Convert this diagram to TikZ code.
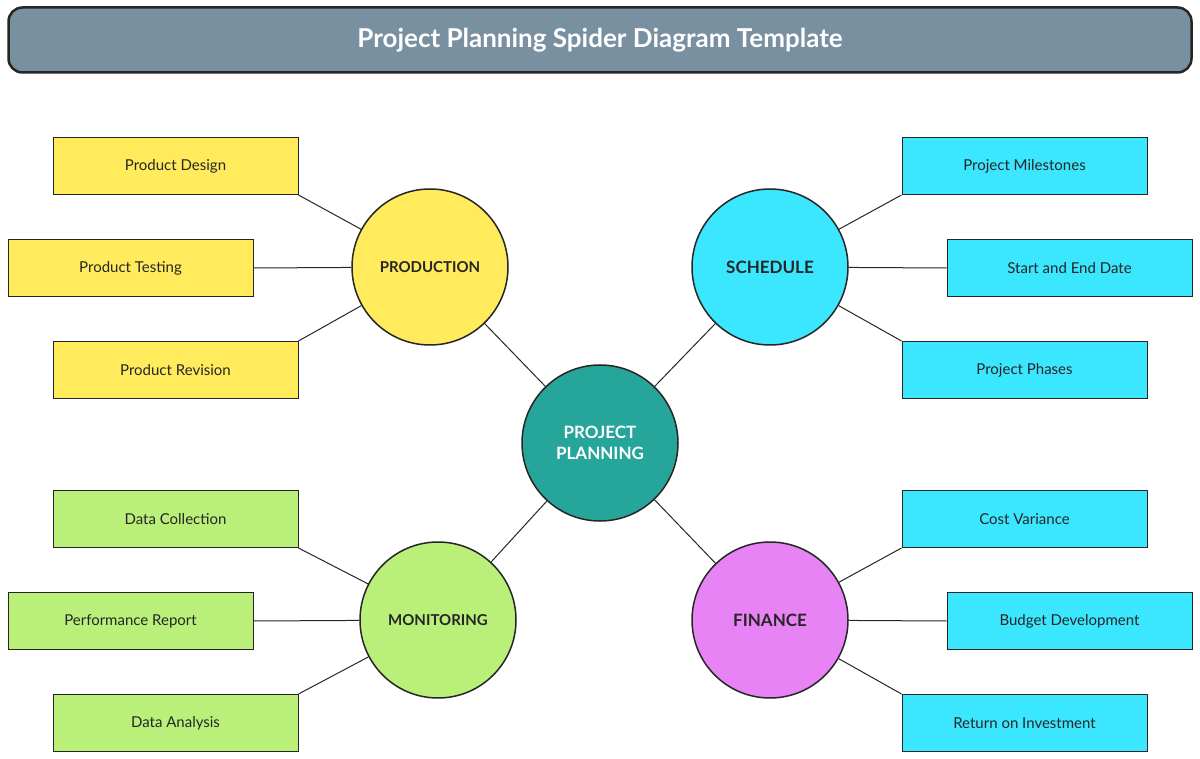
\documentclass[tikz,border=0pt]{standalone}
\usepackage{fontspec}
\setmainfont{Lato}
\begin{document}
\begin{tikzpicture}[x=1pt,y=-1pt,
  box/.style={draw=black!85,line width=1pt,minimum width=245pt,minimum height=57pt,font=\fontsize{15}{18}\selectfont,text=black!85,inner sep=0pt},
  circ/.style={circle,draw=black!85,line width=1.5pt,minimum size=156pt,font=\fontsize{15}{18}\selectfont\bfseries,text=black!85,inner sep=0pt},
  link/.style={draw=black!85,line width=1pt}]
\definecolor{ttl}{HTML}{7890A0}
\definecolor{yel}{HTML}{FFEB5C}
\definecolor{cya}{HTML}{3BE6FF}
\definecolor{grn}{HTML}{BAF07A}
\definecolor{pnk}{HTML}{E783F5}
\definecolor{tea}{HTML}{26A59A}
\useasboundingbox (0,0) rectangle (1200,759);
\node[draw=black!85,line width=2.5pt,fill=ttl,rounded corners=14pt,minimum width=1183pt,minimum height=65pt,text=white,font=\fontsize{26}{30}\selectfont\bfseries] (title) at (600,40) {Project Planning Spider Diagram Template};
\node[circ,fill=tea,text=white,align=center,font=\fontsize{17}{21}\selectfont\bfseries] (c) at (600,443) {PROJECT\\PLANNING};
\node[circ,fill=yel] (prod) at (430,267) {PRODUCTION};
\node[circ,fill=cya,font=\fontsize{17}{21}\selectfont\bfseries] (sch) at (770,267) {SCHEDULE};
\node[circ,fill=grn] (mon) at (438,620) {MONITORING};
\node[circ,fill=pnk,font=\fontsize{17}{21}\selectfont\bfseries] (fin) at (770,620) {FINANCE};
\node[box,fill=yel] (pd) at (175.5,166) {Product Design};
\node[box,fill=yel] (pt) at (130.5,268) {Product Testing};
\node[box,fill=yel] (pr) at (175.5,370) {Product Revision};
\node[box,fill=grn] (dc) at (175.5,519) {Data Collection};
\node[box,fill=grn] (pe) at (130.5,621) {Performance Report};
\node[box,fill=grn] (da) at (175.5,723) {Data Analysis};
\node[box,fill=cya] (pm) at (1024.5,166) {Project Milestones};
\node[box,fill=cya] (se) at (1069.5,268) {Start and End Date};
\node[box,fill=cya] (pp) at (1024.5,370) {Project Phases};
\node[box,fill=cya] (cv) at (1024.5,519) {Cost Variance};
\node[box,fill=cya] (bd) at (1069.5,621) {Budget Development};
\node[box,fill=cya] (ri) at (1024.5,723) {Return on Investment};
\draw[link] (c) -- (prod); \draw[link] (c) -- (sch);
\draw[link] (c) -- (mon); \draw[link] (c) -- (fin);
\draw[link] (pd.south east) -- (prod); \draw[link] (pt.east) -- (prod); \draw[link] (pr.north east) -- (prod);
\draw[link] (dc.south east) -- (mon); \draw[link] (pe.east) -- (mon); \draw[link] (da.north east) -- (mon);
\draw[link] (pm.south west) -- (sch); \draw[link] (se.west) -- (sch); \draw[link] (pp.north west) -- (sch);
\draw[link] (cv.south west) -- (fin); \draw[link] (bd.west) -- (fin); \draw[link] (ri.north west) -- (fin);
\end{tikzpicture}
\end{document}
